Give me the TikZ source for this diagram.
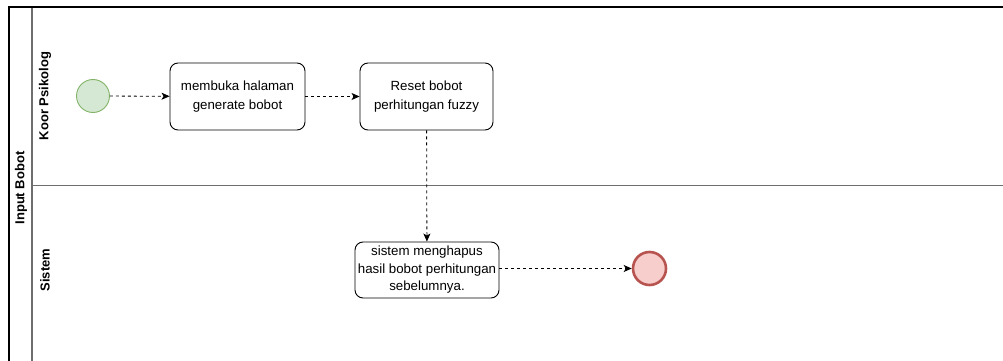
\documentclass[tikz,border=0pt]{standalone}
\usepackage{fontspec}
\setmainfont{Liberation Sans}
\usetikzlibrary{arrows.meta}
\definecolor{startfill}{HTML}{D5E8D4}
\definecolor{startline}{HTML}{82B366}
\definecolor{endfill}{HTML}{F8CECC}
\definecolor{endline}{HTML}{B85450}
\definecolor{laneline}{HTML}{6E6E6E}
\begin{document}
\begin{tikzpicture}[x=1pt,y=-1pt,
  task/.style={draw=black, line width=0.9pt, rounded corners=8pt, fill=white,
    align=center, inner sep=0pt, font=\fontsize{13.3}{19.5}\selectfont},
  startev/.style={circle, draw=startline, fill=startfill, line width=0.9pt,
    minimum size=33pt, inner sep=0pt},
  endev/.style={circle, draw=endline, fill=endfill, line width=2.6pt,
    minimum size=33pt, inner sep=0pt},
  flow/.style={draw=black, line width=0.8pt, dash pattern=on 3pt off 3pt,
    -{Stealth[length=8pt,width=7pt,inset=2pt]}},
  lanelabel/.style={font=\fontsize{13}{15}\selectfont\bfseries, rotate=90}
]
\useasboundingbox (0,0) rectangle (1003,361);
\fill[white] (0,0) rectangle (1003,361);

% pool and lane frame
\draw[laneline, line width=1.4pt] (32,7) -- (32,365);
\draw[laneline, line width=1.4pt] (32,185.5) -- (1010,185.5);
\draw[black, line width=1.4pt] (9,365) -- (9,7) -- (1010,7);

\node[lanelabel] (pool) at (21,188) {Input Bobot};
\node[lanelabel] (lane1) at (45,96) {Koor Psikolog};
\node[lanelabel] (lane2) at (45,270) {Sistem};

% events and tasks
\node[startev] (start) at (93,96) {};
\node[task, minimum width=135pt, minimum height=67pt] (open) at (237.5,96.5)
  {membuka halaman\\generate bobot};
\node[task, minimum width=133pt, minimum height=67pt] (reset) at (426.5,96.5)
  {Reset bobot\\perhitungan fuzzy};
\node[task, minimum width=144pt, minimum height=56pt,
  font=\fontsize{13.3}{17.5}\selectfont] (erase) at (427,270)
  {sistem menghapus\\hasil bobot perhitungan\\sebelumnya.};
\node[endev] (end) at (649.5,268.5) {};

% sequence flows
\draw[flow] (start) -- (open);
\draw[flow] (open) -- (reset);
\draw[flow] (reset) -- (erase);
\draw[flow] (erase.east |- end) -- (end);
\end{tikzpicture}
\end{document}
